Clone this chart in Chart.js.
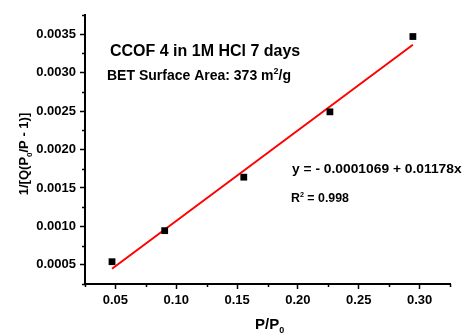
<!DOCTYPE html>
<html>
<head>
<meta charset="utf-8">
<script src="https://cdn.jsdelivr.net/npm/chart.js@4.4.1/dist/chart.umd.min.js"></script>
<style>
  html, body { margin: 0; padding: 0; background: #fff; }
</style>
</head>
<body>
<canvas id="bet" width="465" height="336"></canvas>
<script>
// BET plot values
const pressure = [0.0472, 0.0905, 0.1555, 0.2263, 0.2945];
const betValue = [0.00054, 0.000944, 0.00164, 0.00249, 0.00347];
// linear fit end points
const fitX = [0.0472, 0.2945];
const fitY = [0.000449, 0.003362];

const xTicks = [0.05, 0.10, 0.15, 0.20, 0.25, 0.30];
const xMinor = [0.025, 0.075, 0.125, 0.175, 0.225, 0.275, 0.325];
const yTicks = [0.0005, 0.0010, 0.0015, 0.0020, 0.0025, 0.0030, 0.0035];
const yMinor = [0.00025, 0.00075, 0.00125, 0.00175, 0.00225, 0.00275, 0.00325, 0.00375];

const FONT = '"Liberation Sans", Arial, sans-serif';

function drawParts(ctx, parts, size) {
  let x = 0;
  parts.forEach(p => {
    const fs = (p.sub || p.sup) ? Math.round(size * 0.62) : size;
    ctx.font = 'bold ' + fs + 'px ' + FONT;
    const dy = p.sub ? size * 0.28 : (p.sup ? -size * 0.42 : 0);
    ctx.fillText(p.t, x, dy);
    x += ctx.measureText(p.t).width;
  });
  return x;
}

function textAt(ctx, parts, x, y, size, sx) {
  ctx.save();
  ctx.translate(x, y);
  ctx.scale(sx || 1, 1);
  drawParts(ctx, parts, size);
  ctx.restore();
}

const extras = {
  id: 'extras',
  afterDraw(chart) {
    const ctx = chart.ctx;
    const xs = chart.scales.x, ys = chart.scales.y;
    const area = chart.chartArea;
    ctx.save();
    ctx.strokeStyle = '#000';
    ctx.lineWidth = 1.5;
    ctx.beginPath();
    xMinor.forEach(v => {
      const px = Math.round(xs.getPixelForValue(v)) + 0.5;
      ctx.moveTo(px, area.bottom);
      ctx.lineTo(px, area.bottom + 3);
    });
    yMinor.forEach(v => {
      const py = Math.round(ys.getPixelForValue(v)) + 0.5;
      ctx.moveTo(area.left, py);
      ctx.lineTo(area.left - 3, py);
    });
    ctx.stroke();

    ctx.fillStyle = '#000';
    ctx.textBaseline = 'alphabetic';
    ctx.textAlign = 'left';
    textAt(ctx, [{t: 'CCOF 4 in 1M HCl 7 days'}], 110, 56, 16);
    textAt(ctx, [{t: 'BET Surface Area: 373 m'}, {t: '2', sup: true}, {t: '/g'}], 107, 80, 14);
    textAt(ctx, [{t: 'y = - 0.0001069 + 0.01178x'}], 292, 173, 12, 1.15);
    textAt(ctx, [{t: 'R'}, {t: '2', sup: true}, {t: ' = 0.998'}], 291, 202, 12, 1.03);

    // axis titles
    textAt(ctx, [{t: 'P/P'}, {t: '0', sub: true}], 255, 329, 15);
    ctx.save();
    ctx.translate(28, 154);
    ctx.rotate(-Math.PI / 2);
    ctx.font = 'bold 13px ' + FONT;
    const parts = [{t: '1/[Q(P'}, {t: '0', sub: true}, {t: '/P - 1)]'}];
    // measure for centring
    let w = 0;
    parts.forEach(p => {
      ctx.font = 'bold ' + (p.sub ? 8 : 13) + 'px ' + FONT;
      w += ctx.measureText(p.t).width;
    });
    ctx.translate(-w / 2, 0);
    drawParts(ctx, parts, 13);
    ctx.restore();
    ctx.restore();
  }
};

function axisOpts(min, max, ticks, fmt, fit) {
  return {
    type: 'linear',
    min: min,
    max: max,
    border: { display: true, color: '#000', width: 2 },
    grid: { drawOnChartArea: false, drawTicks: true, tickLength: 5, tickColor: '#000', tickWidth: 1.5 },
    ticks: {
      color: '#000',
      font: { family: FONT, size: 13, weight: 'bold' },
      padding: 4,
      maxRotation: 0,
      callback: v => v.toFixed(fmt)
    },
    afterBuildTicks: s => { s.ticks = ticks.map(v => ({ value: v })); },
    afterFit: fit
  };
}

new Chart(document.getElementById('bet').getContext('2d'), {
  type: 'scatter',
  data: {
    datasets: [
      {
        label: 'data',
        data: pressure.map((x, i) => ({ x: x, y: betValue[i] })),
        pointStyle: 'rect',
        pointRadius: 4.8,
        pointBackgroundColor: '#000',
        pointBorderWidth: 0,
        showLine: false
      },
      {
        label: 'fit',
        data: fitX.map((x, i) => ({ x: x, y: fitY[i] })),
        showLine: true,
        borderColor: '#ff0000',
        borderWidth: 2,
        pointRadius: 0,
        fill: false
      }
    ]
  },
  options: {
    responsive: false,
    animation: false,
    devicePixelRatio: 1,
    layout: { padding: { top: 15, right: 15, left: 0, bottom: 0 } },
    plugins: { legend: { display: false }, tooltip: { enabled: false } },
    scales: {
      x: Object.assign(axisOpts(0.025, 0.325, xTicks, 2, s => { s.height = 52; }), { position: 'bottom' }),
      y: Object.assign(axisOpts(0.00025, 0.00375, yTicks, 4, s => { s.width = 85; }), { position: 'left' })
    }
  },
  plugins: [extras]
});
</script>
</body>
</html>
